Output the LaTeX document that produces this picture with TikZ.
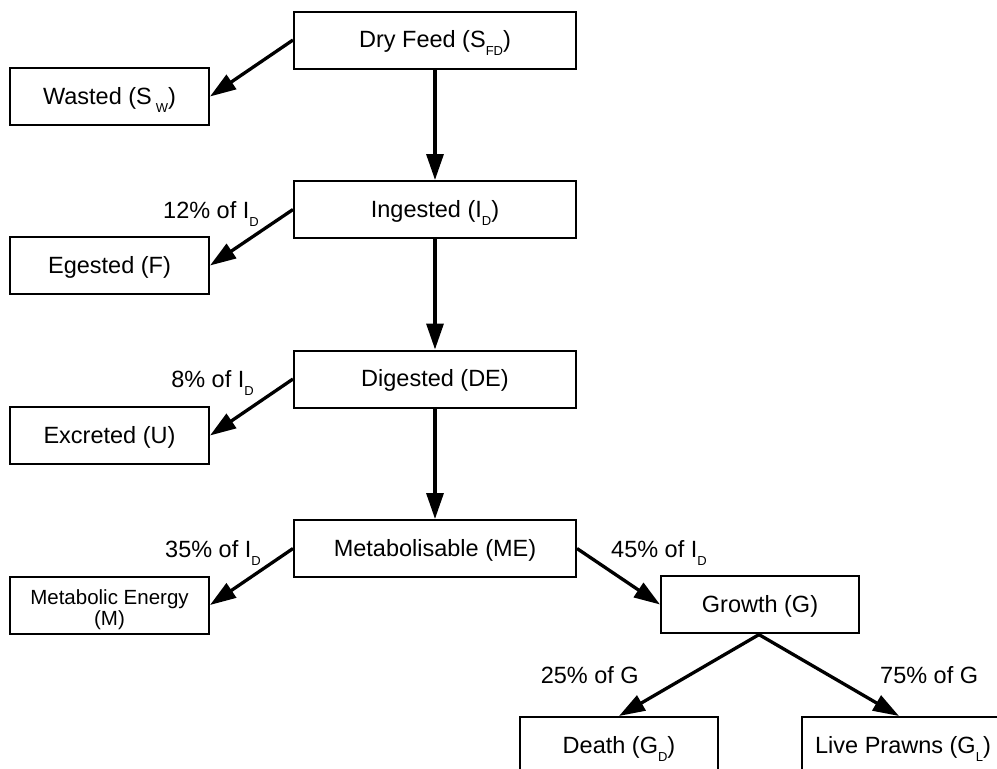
\documentclass[tikz,border=0pt]{standalone}
\usepackage{fontspec}
\setmainfont{Liberation Sans}
\usetikzlibrary{arrows.meta}
\newcommand\lo[1]{\raisebox{-8pt}{\fontsize{13}{13}\selectfont #1}}
\begin{document}
\begin{tikzpicture}[x=1pt,y=-1pt,
  box/.style={draw, line width=2pt, inner sep=0pt, minimum height=57pt,
    text height=17pt, text depth=2pt, font=\fontsize{23.5}{26}\selectfont},
  mainbox/.style={box, minimum width=282pt},
  sidebox/.style={box, minimum width=199pt},
  flow/.style={line width=3.3pt, -{Triangle[length=26pt,width=17pt]}},
  lbl/.style={inner sep=0pt, font=\fontsize{23.5}{26}\selectfont}]
\useasboundingbox (0,0) rectangle (997,769);
\clip (0,0) rectangle (997,769);

% main column
\node[mainbox] (dry) at (435,40) {Dry Feed (S\lo{FD})};
\node[mainbox] (ing) at (435,209.5) {Ingested (I\lo{D})};
\node[mainbox] (dig) at (435,379) {Digested (DE)};
\node[mainbox] (me)  at (435,548.5) {Metabolisable (ME)};

% side boxes
\node[sidebox] (wasted)   at (109.5,96.5)  {Wasted (S\,\lo{W})};
\node[sidebox] (egested)  at (109.5,265.5) {Egested (F)};
\node[sidebox] (excreted) at (109.5,435.5) {Excreted (U)};
\node[sidebox, align=center, text height=, text depth=,
      font=\fontsize{20.5}{21.7}\selectfont] (menergy) at (109.5,605)
      {\rule{0pt}{24.5pt}Metabolic Energy\\(M)};

% growth and outputs
\node[box, minimum width=198pt] (growth) at (760,604.5) {Growth (G)};
\node[box, minimum width=198pt] (death)  at (619,745.5) {Death (G\lo{D})};
\node[box, minimum width=202pt] (live)   at (903,745.5) {Live Prawns (G\lo{L})};

% labels
\node[lbl, anchor=base east] (l12) at (259,218)   {12\% of I\lo{D}};
\node[lbl, anchor=base east] (l8)  at (254,387.5) {8\% of I\lo{D}};
\node[lbl, anchor=base east] (l35) at (261,557)   {35\% of I\lo{D}};
\node[lbl, anchor=base west] (l45) at (611,557)   {45\% of I\lo{D}};
\node[lbl, anchor=base east] (l25) at (639,683)   {25\% of G};
\node[lbl, anchor=base west] (l75) at (880,683)   {75\% of G};

% connectors
\draw[flow] (dry.south) -- (ing.north);
\draw[flow] (ing.south) -- (dig.north);
\draw[flow] (dig.south) -- (me.north);
\draw[flow] (dry.west) -- (wasted.east);
\draw[flow] (ing.west) -- (egested.east);
\draw[flow] (dig.west) -- (excreted.east);
\draw[flow] (me.west) -- (menergy.east);
\draw[flow] (me.east) -- (growth.west);
\draw[flow] (growth.south) -- (death.north);
\draw[flow] ([xshift=-2pt]growth.south) -- ([xshift=-4pt]live.north);
\end{tikzpicture}
\end{document}
